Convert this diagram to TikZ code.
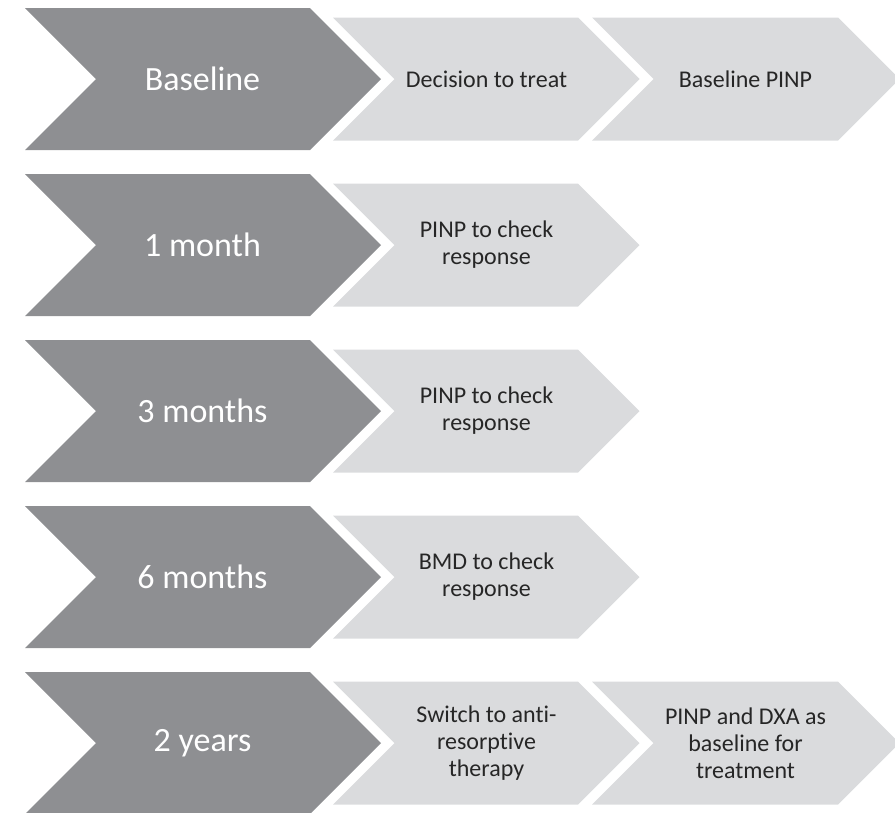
\documentclass[tikz,border=0pt]{standalone}
\usepackage{fontspec}
\setmainfont{Carlito}[Ligatures=NoCommon]

\definecolor{darkchev}{HTML}{8E8F92}
\definecolor{lightchev}{HTML}{DADBDD}
\definecolor{chevtext}{HTML}{262626}

% chevron: style, left x, centre y, body width, half height
\newcommand{\chevron}[5]{%
  \fill[#1] ({#2},{#3-#5}) -- ++({#4},0) -- ++({#5},{#5}) -- ++({-#5},{#5})
    -- ++({-#4},0) -- ++({#5},{-#5}) -- cycle;}

\tikzset{
  darkstep/.style={fill=darkchev},
  lightstep/.style={fill=lightchev},
  timetext/.style={text=white, font=\fontsize{34}{40}\selectfont, align=center},
  tasktext/.style={text=chevtext, font=\fontsize{24}{27}\selectfont, align=center},
}

\begin{document}
\begin{tikzpicture}[x=1pt, y=-1pt]

    \useasboundingbox (0,0) rectangle (895,812);

    % baseline
    \chevron{darkstep}{25}{79}{285}{71}
    \chevron{lightstep}{333}{79}{245}{61.5}
    \chevron{lightstep}{592}{79}{246}{61.5}
    \node[timetext] (base) at (202.5,79) {Baseline};
    \node[tasktext] (decide) at (486.5,79) {Decision to treat};
    \node[tasktext] (basepinp) at (745.5,79) {Baseline PINP};

    % 1 month
    \chevron{darkstep}{25}{245}{285}{71}
    \chevron{lightstep}{333}{245}{245}{61.5}
    \node[timetext] (month1) at (202.5,245) {1 month};
    \node[tasktext] (pinp1) at (486.5,245) {PINP to check\\response};

    % 3 months
    \chevron{darkstep}{25}{411}{285}{71}
    \chevron{lightstep}{333}{411}{245}{61.5}
    \node[timetext] (month3) at (202.5,411) {3 months};
    \node[tasktext] (pinp3) at (486.5,411) {PINP to check\\response};

    % 6 months
    \chevron{darkstep}{25}{577}{285}{71}
    \chevron{lightstep}{333}{577}{245}{61.5}
    \node[timetext] (month6) at (202.5,577) {6 months};
    \node[tasktext] (bmd6) at (486.5,577) {BMD to check\\response};

    % 2 years
    \chevron{darkstep}{25}{743}{285}{71}
    \chevron{lightstep}{333}{743}{245}{61.5}
    \chevron{lightstep}{592}{743}{246}{61.5}
    \node[timetext] (year2) at (202.5,743) {2 years};
    \node[tasktext] (switch) at (486.5,743) {Switch to anti-\\resorptive\\therapy};
    \node[tasktext] (dxa) at (745.5,743) {PINP and DXA as\\baseline for\\treatment};

\end{tikzpicture}
\end{document}
